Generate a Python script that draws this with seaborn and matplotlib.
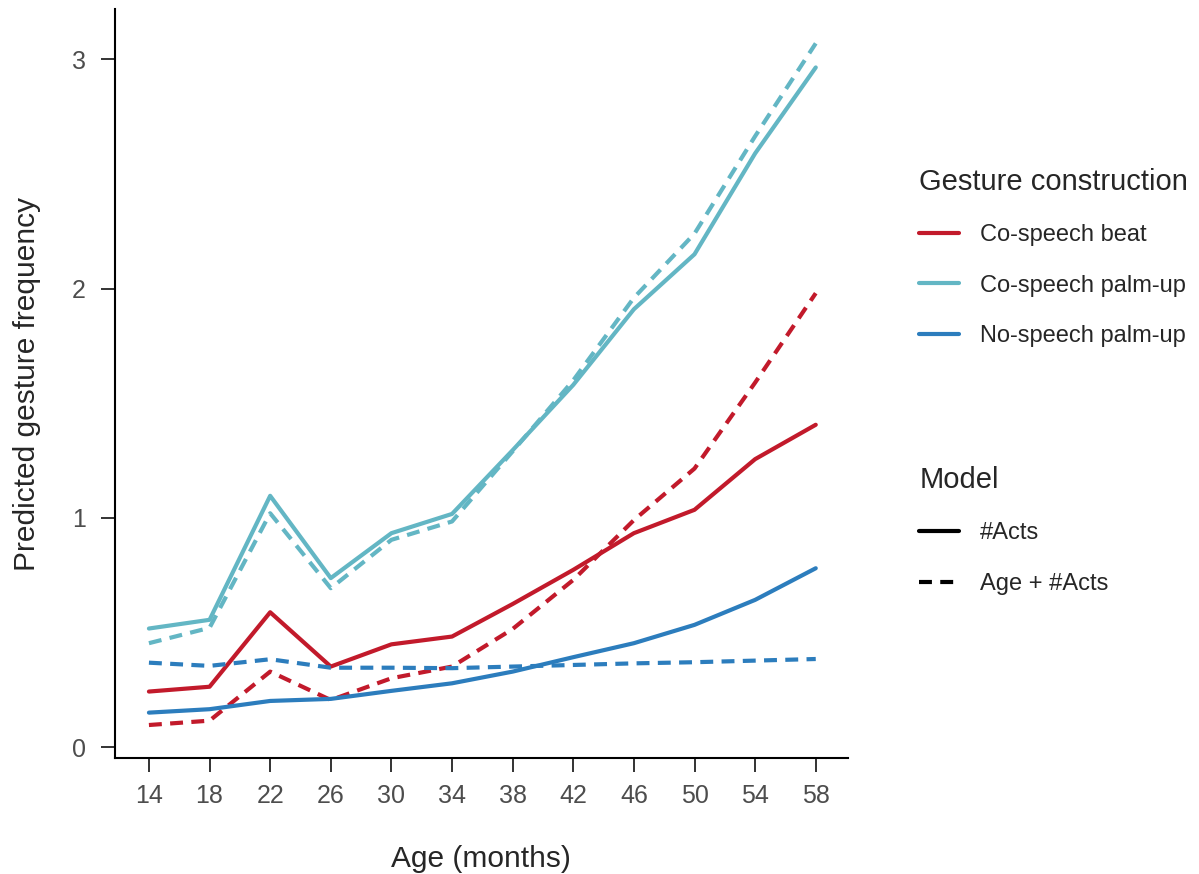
import matplotlib
matplotlib.use("Agg")
import matplotlib.pyplot as plt
from matplotlib.lines import Line2D
import seaborn as sns
import pandas as pd

# ages (months)
ages = [14, 18, 22, 26, 30, 34, 38, 42, 46, 50, 54, 58]

# predicted frequencies, model "#Acts"
beat_acts = [0.242, 0.263, 0.588, 0.351, 0.448, 0.482, 0.624, 0.773, 0.933, 1.035, 1.256, 1.406]
palm_acts = [0.517, 0.555, 1.096, 0.737, 0.933, 1.017, 1.295, 1.58, 1.91, 2.15, 2.59, 2.965]
nospeech_acts = [0.150, 0.165, 0.201, 0.210, 0.245, 0.278, 0.329, 0.392, 0.453, 0.533, 0.642, 0.780]

# predicted frequencies, model "Age + #Acts"
beat_age = [0.096, 0.115, 0.329, 0.205, 0.300, 0.351, 0.515, 0.729, 0.990, 1.215, 1.590, 1.980]
palm_age = [0.453, 0.520, 1.020, 0.693, 0.904, 0.984, 1.290, 1.600, 1.960, 2.240, 2.665, 3.070]
nospeech_age = [0.368, 0.354, 0.383, 0.346, 0.346, 0.344, 0.351, 0.358, 0.365, 0.370, 0.377, 0.384]

constructions = ["Co-speech beat", "Co-speech palm-up", "No-speech palm-up"]
models = ["#Acts", "Age + #Acts"]
colors = ["#C21A2B", "#63B6C4", "#2C7DBD"]

series = {
    ("Co-speech beat", "#Acts"): beat_acts,
    ("Co-speech palm-up", "#Acts"): palm_acts,
    ("No-speech palm-up", "#Acts"): nospeech_acts,
    ("Co-speech beat", "Age + #Acts"): beat_age,
    ("Co-speech palm-up", "Age + #Acts"): palm_age,
    ("No-speech palm-up", "Age + #Acts"): nospeech_age,
}
rows = []
for (g, m), vals in series.items():
    for a, v in zip(ages, vals):
        rows.append({"age": a, "freq": v, "construction": g, "model": m})
df = pd.DataFrame(rows)

sns.set_style("ticks")
plt.rcParams["font.family"] = ["Liberation Sans", "DejaVu Sans"]

fig = plt.figure(figsize=(11.99, 8.74), dpi=100)
ax = fig.add_axes([0.0959, 0.1327, 0.611, 0.857])

lw = 3.0
dash_style = (3.1, 2.0)
sns.lineplot(data=df, x="age", y="freq", hue="construction", style="model",
             hue_order=constructions, style_order=models,
             palette=colors, dashes={"#Acts": "", "Age + #Acts": dash_style},
             linewidth=lw, legend=False, ax=ax)

ax.set_xlim(11.76, 60.1)
ax.set_ylim(-0.048, 3.22)
ax.set_xticks(ages)
ax.set_yticks([0, 1, 2, 3])
ax.tick_params(axis="both", length=10, width=1.4, color="#333333",
               labelcolor="#4D4D4D", labelsize=18)
ax.tick_params(axis="x", pad=9)
ax.tick_params(axis="y", pad=11)
for side in ["top", "right"]:
    ax.spines[side].set_visible(False)
for side in ["left", "bottom"]:
    ax.spines[side].set_linewidth(1.5)
    ax.spines[side].set_color("black")

ax.set_xlabel("Age (months)", fontsize=21.5)
ax.set_ylabel("Predicted gesture frequency", fontsize=21.5)
ax.xaxis.set_label_coords(0.5, -0.116)
ax.yaxis.set_label_coords(-0.101, 0.5)

# legends
h1 = [Line2D([], [], color=c, lw=lw) for c in colors]
leg1 = fig.legend(h1, constructions, title="Gesture construction",
                  loc="upper left", bbox_to_anchor=(0.749, 0.832),
                  frameon=False, fontsize=17, title_fontsize=21,
                  handlelength=1.7, handletextpad=0.85, labelspacing=1.2)
leg1._legend_box.align = "left"

h2 = [Line2D([], [], color="black", lw=lw),
      Line2D([], [], color="black", lw=lw, dashes=dash_style)]
leg2 = fig.legend(h2, models, title="Model",
                  loc="upper left", bbox_to_anchor=(0.749, 0.491),
                  frameon=False, fontsize=17, title_fontsize=21,
                  handlelength=1.7, handletextpad=0.85, labelspacing=1.2)
leg2._legend_box.align = "left"

fig.savefig("out.png", dpi=100, facecolor="white")
